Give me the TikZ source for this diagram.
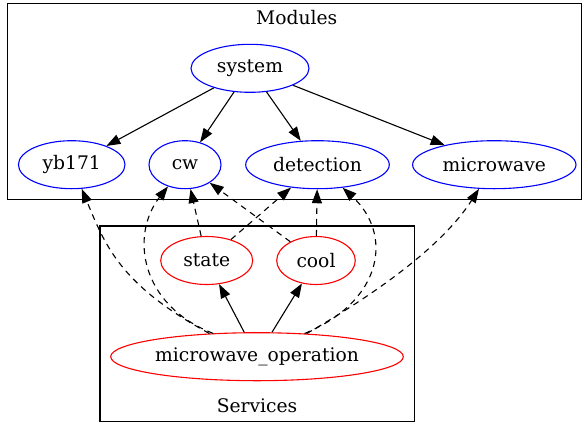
\documentclass[tikz,border=0pt]{standalone}
\usepackage{fontspec}
\setmainfont{DejaVu Serif}
\usetikzlibrary{arrows.meta,shapes.geometric}
\begin{document}
\begin{tikzpicture}[x=1pt,y=-1pt,
  every node/.style={font=\fontsize{18.7}{21}\selectfont},
  mod/.style={ellipse, draw=blue, line width=1.1pt, inner sep=0pt, minimum height=48pt},
  svc/.style={ellipse, draw=red, line width=1.1pt, inner sep=0pt, minimum height=48pt},
  cluster/.style={draw=black, line width=1.1pt},
  dep/.style={-{Triangle[length=14pt,width=10pt]}, line width=1.1pt},
  use/.style={dep, dash pattern=on 6pt off 5pt}]
\useasboundingbox (0,0) rectangle (583,426);
\draw[cluster] (7.3,3.3) rectangle (581.7,199.3);
\draw[cluster] (100,226) rectangle (414.3,421.7);
\node (modlabel) at (296.7,17.3) {Modules};
\node (svclabel) at (257,406) {Services};
\node[mod, minimum width=118pt] (system) at (250,68.3) {system};
\node[mod, minimum width=106.6pt] (yb171) at (71.7,164.7) {yb171};
\node[mod, minimum width=72pt] (cw) at (185,164.7) {cw};
\node[mod, minimum width=143.6pt] (detection) at (317.5,164.7) {detection};
\node[mod, minimum width=163.4pt] (microwave) at (494.3,164.7) {microwave};
\node[svc, minimum width=92pt] (state) at (206.7,260.5) {state};
\node[svc, minimum width=78.6pt] (cool) at (316,260.5) {cool};
\node[svc, minimum width=292.6pt] (mo) at (257,356.7) {microwave\_operation};
\draw[dep] (system) -- (yb171);
\draw[dep] (system) -- (cw);
\draw[dep] (system) -- (detection);
\draw[dep] (system) -- (microwave);
\draw[dep] (mo) -- (state);
\draw[dep] (mo) -- (cool);
\draw[use] (state) -- (cw);
\draw[use] (state) -- (detection);
\draw[use] (cool) -- (cw);
\draw[use] (cool) -- (detection);
\draw[use] (mo.154) .. controls (120,285) and (105,245) .. (yb171);
\draw[use] (mo.152) .. controls (140,305) and (130,235) .. (cw);
\draw[use] (mo.26) .. controls (385,300) and (392,233) .. (detection);
\draw[use] (mo.25) .. controls (365,300) and (440,250) .. (microwave);
\end{tikzpicture}
\end{document}
